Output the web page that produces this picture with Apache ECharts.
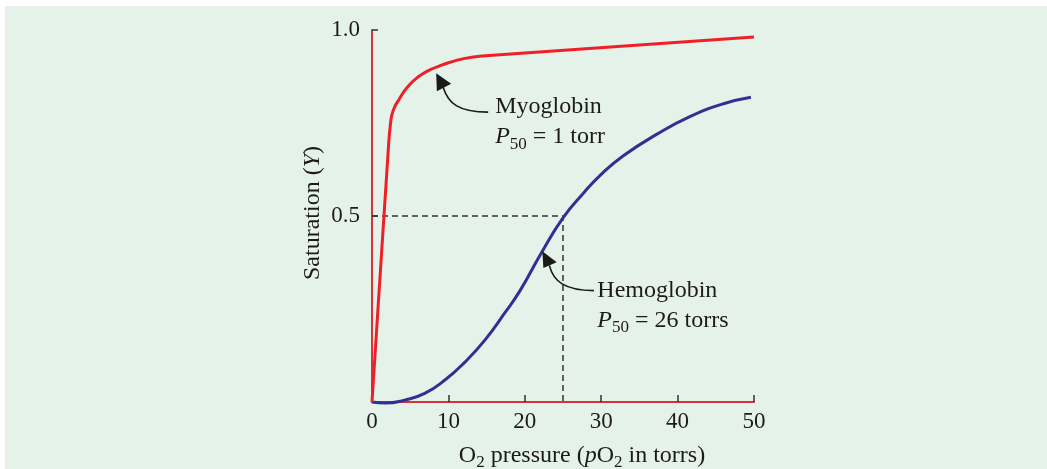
<!DOCTYPE html>
<html><head><meta charset="utf-8">
<script src="https://cdn.jsdelivr.net/npm/echarts@6/dist/echarts.min.js"></script>
<style>
html,body{margin:0;padding:0;background:#ffffff;}
#c{position:absolute;left:5px;top:6px;width:1042px;height:463px;background:#e5f2e9;}
</style>
</head><body><div id="c"></div>
<script>
// ---- data ----
const xTickValues = [10, 20, 30, 40, 50];
const yTickValues = [0.5, 1.0];
const myoX = [0, 2.2, 2.4, 2.6, 3.0, 3.5, 4.2, 5.0, 5.8, 6.7, 7.7, 8.8, 10, 12, 14.4, 50];
const myoY = [0, 0.70, 0.745, 0.772, 0.795, 0.812, 0.835, 0.855, 0.870, 0.883, 0.894, 0.903, 0.912, 0.923, 0.930, 0.981];
const hemoX = [0, 1.7, 4.3, 6.9, 9.55, 12.2, 14.8, 17.4, 19.4, 22.2, 25, 27.7, 30, 32.9, 37.3, 41.6, 45.9, 49.6];
const hemoY = [0, -0.003, 0.005, 0.023, 0.059, 0.108, 0.167, 0.240, 0.300, 0.402, 0.495, 0.562, 0.612, 0.662, 0.720, 0.767, 0.801, 0.819];
const hemoP50 = [25, 0.5];
const myoLabel = ['Myoglobin', '{i|P}{sub|50} = 1 torr'];
const hemoLabel = ['Hemoglobin', '{i|P}{sub|50} = 26 torrs'];
const myoArrowTip = [8.4, 0.884];
const hemoArrowTip = [22.3, 0.405];

const F = '"Liberation Serif", "Times New Roman", serif';
const TXT = '#1e1a1b';
const RED = '#ee1f27';
const BLUE = '#2e3192';
const AXRED = '#d8333b';

const zip = (xs, ys) => xs.map((x, i) => [x, ys[i]]);
const dashData = [[0, hemoP50[1]], [hemoP50[0], hemoP50[1]], [hemoP50[0], 0]];

const chart = echarts.init(document.getElementById('c'), null, {renderer: 'canvas'});
const option = {
  animation: false,
  backgroundColor: 'transparent',
  grid: {left: 367, right: 293, top: 24, bottom: 67, containLabel: false},
  xAxis: {
    type: 'value', min: 0, max: 50, interval: 10,
    axisLine: {show: true, lineStyle: {color: AXRED, width: 2}},
    axisTick: {show: true, inside: true, length: 7, customValues: xTickValues, lineStyle: {color: '#333', width: 1.5}},
    axisLabel: {fontFamily: F, fontSize: 23, color: TXT, margin: 8},
    splitLine: {show: false}
  },
  yAxis: {
    type: 'value', min: 0, max: 1, interval: 0.5,
    axisLine: {show: true, lineStyle: {color: AXRED, width: 2}},
    axisTick: {show: true, inside: true, length: 6, customValues: yTickValues, lineStyle: {color: '#333', width: 1.5}},
    axisLabel: {fontFamily: F, fontSize: 23, color: TXT, margin: 12, customValues: yTickValues,
      formatter: v => v === 0 ? '' : v.toFixed(1)},
    splitLine: {show: false}
  },
  series: [
    {type: 'line', data: dashData, showSymbol: false, clip: false, z: 1,
     lineStyle: {color: '#333', width: 1.5, type: [6, 4]}},
    {type: 'line', data: zip(hemoX, hemoY), showSymbol: false, clip: false, smooth: 0.5, z: 3,
     lineStyle: {color: BLUE, width: 3}},
    {type: 'line', data: zip(myoX, myoY), showSymbol: false, clip: false, smooth: 0.3, z: 4,
     lineStyle: {color: RED, width: 3, join: 'round'}}
  ]
};
chart.setOption(option);

const rich = {
  i: {fontStyle: 'italic', fontSize: 24, fontFamily: F, fill: TXT},
  sub: {fontSize: 17, fontFamily: F, fill: TXT, padding: [14, 0, 0, 0]}
};
function annot(tip, head, tail, textDx, lines) {
  const p = chart.convertToPixel({gridIndex: 0}, tip);
  const tx = p[0], ty = p[1];
  return [
    {type: 'polygon', shape: {points: head.map(h => [tx + h[0], ty + h[1]])}, style: {fill: '#1a1a1a'}, z: 10},
    {type: 'bezierCurve', shape: {x1: tx + tail[0][0], y1: ty + tail[0][1], cpx1: tx + tail[1][0], cpy1: ty + tail[1][1],
      cpx2: tx + tail[2][0], cpy2: ty + tail[2][1], x2: tx + tail[3][0], y2: ty + tail[3][1]},
      style: {stroke: '#1a1a1a', lineWidth: 1.6, fill: null}, z: 10},
    {type: 'text', x: tx + textDx[0], y: ty + textDx[1], z: 10,
      style: {text: lines[0], fontSize: 24, fontFamily: F, fill: TXT, align: 'left', verticalAlign: 'middle'}},
    {type: 'text', x: tx + textDx[0], y: ty + textDx[2], z: 10,
      style: {text: lines[1], fontSize: 24, fontFamily: F, fill: TXT, align: 'left', verticalAlign: 'middle', rich: rich}}
  ];
}
const graphics = [].concat(
  annot(myoArrowTip, [[0, 0], [15, 10.6], [0.7, 18]], [[7, 14], [12, 30], [22, 39], [52, 39]], [59, 34, 64], myoLabel),
  annot(hemoArrowTip, [[0, 0], [14.3, 11], [1, 16.7]], [[7, 14], [11, 30], [22, 39], [51.6, 39.3]], [55, 39, 69], hemoLabel),
  [
    {type: 'text', x: 308, y: 207, rotation: Math.PI / 2, z: 10,
      style: {text: 'Saturation ({i|Y})', fontSize: 24, fontFamily: F, fill: TXT, align: 'center', verticalAlign: 'middle', rich: rich}},
    {type: 'text', x: 577, y: 450, z: 10,
      style: {text: 'O{sub|2} pressure ({i|p}O{sub|2} in torrs)', fontSize: 24, fontFamily: F, fill: TXT, align: 'center', verticalAlign: 'middle', rich: rich}}
  ]
);
chart.setOption({graphic: {elements: graphics}});
</script>
</body></html>
